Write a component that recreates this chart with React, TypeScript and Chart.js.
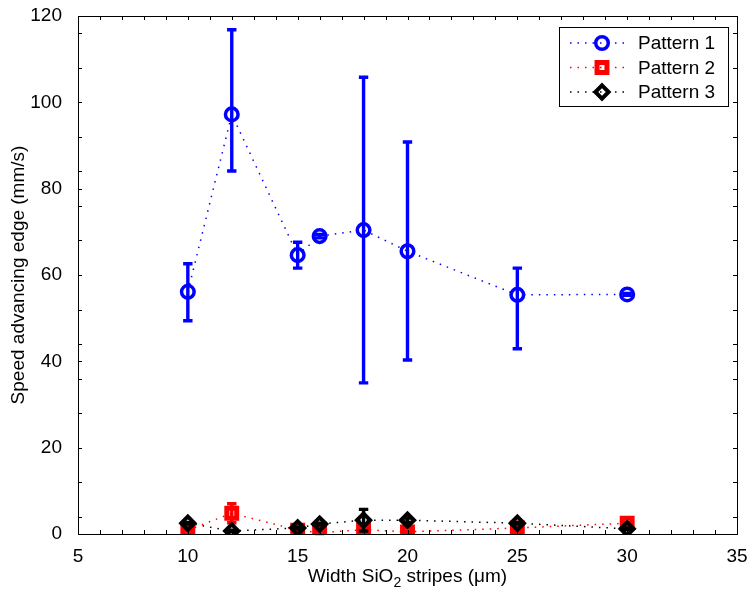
import React, { useEffect, useRef } from "react";
import { Chart, registerables } from "chart.js";

Chart.register(...registerables);

const widths = [10, 12, 15, 16, 18, 20, 25, 30];

const p1 = [56.1, 97.2, 64.6, 69.0, 70.4, 65.5, 55.4, 55.5];
const p1Hi = [62.6, 116.8, 67.6, 69.4, 105.8, 90.8, 61.6, 55.7];
const p1Lo = [49.4, 84.1, 61.6, 68.6, 35.0, 40.3, 42.9, 55.3];

const p2 = [0.9, 4.8, 0.9, 0.3, 1.0, 0.5, 1.4, 2.5];
const p2Hi = [1.1, 7.0, 1.1, 0.5, 1.3, 0.7, 1.6, 2.7];
const p2Lo = [0.7, 2.6, 0.7, 0.1, 0.7, 0.3, 1.2, 2.3];

const p3 = [2.5, 0.7, 1.4, 2.3, 3.2, 3.2, 2.5, 1.2];
const p3Hi = [2.7, 0.9, 1.6, 2.5, 5.7, 3.7, 2.7, 1.4];
const p3Lo = [2.3, 0.5, 1.2, 2.1, 0.7, 2.7, 2.3, 1.0];

const seriesNames = ["Pattern 1", "Pattern 2", "Pattern 3"];
const seriesColors = ["#0000ff", "#ff0000", "#000000"];
const seriesStyles = ["circle", "rect", "rectRot"];

const xMin = 5, xMax = 35, xStep = 5;
const yMin = 0, yMax = 120, yStep = 20;

const FONT = '"Liberation Sans", Arial, Helvetica, sans-serif';
const FS = 19;

const errHi = [p1Hi, p2Hi, p3Hi];
const errLo = [p1Lo, p2Lo, p3Lo];
const seriesValues = [p1, p2, p3];

function markerRadius(style: string) {
  if (style === "circle") return 6.3;
  if (style === "rect") return 7;
  return 6.6;
}
function markerWidth(style: string) {
  if (style === "circle") return 3.5;
  if (style === "rect") return 5;
  return 4;
}

const errorBarPlugin = {
  id: "errorBars",
  beforeDatasetDraw(chart: any, args: any) {
    const i = args.index;
    const { ctx, scales } = chart;
    const xs = scales.x, ys = scales.y;
    ctx.save();
    ctx.strokeStyle = seriesColors[i];
    ctx.lineWidth = 3.4;
    ctx.lineCap = "butt";
    widths.forEach((w, k) => {
      const px = xs.getPixelForValue(w);
      const yh = ys.getPixelForValue(errHi[i][k]);
      const yl = ys.getPixelForValue(errLo[i][k]);
      ctx.beginPath();
      ctx.moveTo(px, yh);
      ctx.lineTo(px, yl);
      ctx.moveTo(px - 4.7, yh);
      ctx.lineTo(px + 4.7, yh);
      ctx.moveTo(px - 4.7, yl);
      ctx.lineTo(px + 4.7, yl);
      ctx.stroke();
    });
    ctx.restore();
  },
};

function drawMarker(ctx: CanvasRenderingContext2D, style: string, x: number, y: number, color: string) {
  const r = markerRadius(style);
  ctx.save();
  ctx.strokeStyle = color;
  ctx.lineWidth = markerWidth(style);
  ctx.beginPath();
  if (style === "circle") {
    ctx.arc(x, y, r, 0, Math.PI * 2);
  } else if (style === "rect") {
    const s = Math.SQRT1_2 * r;
    ctx.rect(x - s, y - s, 2 * s, 2 * s);
  } else {
    ctx.moveTo(x, y - r);
    ctx.lineTo(x + r, y);
    ctx.lineTo(x, y + r);
    ctx.lineTo(x - r, y);
    ctx.closePath();
  }
  ctx.stroke();
  ctx.restore();
}

const framePlugin = {
  id: "frame",
  afterDraw(chart: any) {
    const { ctx, chartArea: a, scales } = chart;
    const xs = scales.x, ys = scales.y;
    ctx.save();
    ctx.strokeStyle = "#000";
    ctx.lineWidth = 1;
    ctx.strokeRect(Math.round(a.left) + 0.5, Math.round(a.top) + 0.5, Math.round(a.right - a.left), Math.round(a.bottom - a.top));
    const tl = 4;
    ctx.beginPath();
    for (let v = xMin; v <= xMax; v += 1) {
      const px = Math.round(xs.getPixelForValue(v)) + 0.5;
      ctx.moveTo(px, a.bottom);
      ctx.lineTo(px, a.bottom - tl);
      ctx.moveTo(px, a.top);
      ctx.lineTo(px, a.top + tl);
    }
    const yTicks: number[] = [];
    for (let v = yMin; v <= yMax; v += yStep) yTicks.push(v);
    for (let v = 4; v <= yMax; v += 8) yTicks.push(v);
    yTicks.forEach((v) => {
      const py = Math.round(ys.getPixelForValue(v)) + 0.5;
      ctx.moveTo(a.left, py);
      ctx.lineTo(a.left + tl, py);
      ctx.moveTo(a.right, py);
      ctx.lineTo(a.right - tl, py);
    });
    ctx.stroke();

    // axis titles
    ctx.fillStyle = "#000";
    ctx.textBaseline = "alphabetic";
    const main1 = "Width SiO";
    const sub = "2";
    const main2 = " stripes (\u03bcm)";
    ctx.font = `${FS}px ${FONT}`;
    const w1 = ctx.measureText(main1).width;
    const w3 = ctx.measureText(main2).width;
    ctx.font = `${Math.round(FS * 0.72)}px ${FONT}`;
    const w2 = ctx.measureText(sub).width;
    const total = w1 + w2 + w3;
    const cx = (a.left + a.right) / 2;
    const x0 = cx - total / 2;
    const base = a.bottom + 48;
    ctx.font = `${FS}px ${FONT}`;
    ctx.textAlign = "left";
    ctx.fillText(main1, x0, base);
    ctx.font = `${Math.round(FS * 0.72)}px ${FONT}`;
    ctx.fillText(sub, x0 + w1, base + 5);
    ctx.font = `${FS}px ${FONT}`;
    ctx.fillText(main2, x0 + w1 + w2, base);

    ctx.save();
    ctx.translate(19, (a.top + a.bottom) / 2);
    ctx.rotate(-Math.PI / 2);
    ctx.textAlign = "center";
    ctx.textBaseline = "middle";
    ctx.font = `${FS}px ${FONT}`;
    ctx.fillText("Speed advancing edge (mm/s)", 0, 0);
    ctx.restore();

    // legend
    const bw = 169, bh = 79;
    const bx = Math.round(a.right) - 9 - bw;
    const by = Math.round(a.top) + 11;
    ctx.fillStyle = "#fff";
    ctx.fillRect(bx, by, bw, bh);
    ctx.strokeStyle = "#000";
    ctx.lineWidth = 1;
    ctx.strokeRect(bx + 0.5, by + 0.5, bw, bh);
    seriesNames.forEach((name, i) => {
      const ry = by + 16 + i * 24.5;
      ctx.save();
      ctx.strokeStyle = seriesColors[i];
      ctx.lineWidth = 1.5;
      ctx.setLineDash([1.5, 6]);
      ctx.beginPath();
      ctx.moveTo(bx + 11, ry);
      ctx.lineTo(bx + 68, ry);
      ctx.stroke();
      ctx.restore();
      drawMarker(ctx, seriesStyles[i], bx + 43, ry, seriesColors[i]);
      ctx.fillStyle = "#000";
      ctx.font = `${FS}px ${FONT}`;
      ctx.textAlign = "left";
      ctx.textBaseline = "middle";
      ctx.fillText(name, bx + 79, ry + 1);
    });
    ctx.restore();
  },
};

export default function App() {
  const ref = useRef<HTMLCanvasElement>(null);
  useEffect(() => {
    if (!ref.current) return;
    const datasets = seriesNames.map((name, i) => ({
      label: name,
      data: widths.map((w, k) => ({ x: w, y: seriesValues[i][k] })),
      borderColor: seriesColors[i],
      backgroundColor: "rgba(0,0,0,0)",
      borderWidth: 1.5,
      borderDash: [1.5, 6],
      pointStyle: seriesStyles[i],
      pointRadius: markerRadius(seriesStyles[i]),
      pointBorderWidth: markerWidth(seriesStyles[i]),
      pointBorderColor: seriesColors[i],
      pointBackgroundColor: "rgba(0,0,0,0)",
      showLine: true,
      tension: 0,
      order: 3 - i,
    }));
    const chart = new Chart(ref.current, {
      type: "scatter",
      data: { datasets: datasets as any },
      plugins: [errorBarPlugin, framePlugin],
      options: {
        animation: false,
        responsive: false,
        events: [],
        layout: { padding: { top: 16, right: 13, bottom: 0, left: 0 } },
        plugins: { legend: { display: false }, tooltip: { enabled: false } },
        scales: {
          x: {
            type: "linear",
            min: xMin,
            max: xMax,
            grid: { display: false },
            border: { display: false },
            ticks: { stepSize: xStep, color: "#000", font: { family: FONT, size: FS }, padding: 3, maxRotation: 0 },
            afterFit: (s: any) => {
              s.height = 58;
              s.paddingLeft = 0;
              s.paddingRight = 0;
            },
          },
          y: {
            type: "linear",
            min: yMin,
            max: yMax,
            grid: { display: false },
            border: { display: false },
            ticks: { stepSize: yStep, color: "#000", font: { family: FONT, size: FS }, padding: 8 },
            afterFit: (s: any) => {
              s.width = 78;
              s.paddingTop = 0;
              s.paddingBottom = 0;
            },
          },
        },
      } as any,
    });
    return () => chart.destroy();
  }, []);
  return (
    <canvas
      ref={ref}
      width={750}
      height={592}
      style={{ position: "absolute", left: 0, top: 0, display: "block", width: 750, height: 592 }}
    />
  );
}
